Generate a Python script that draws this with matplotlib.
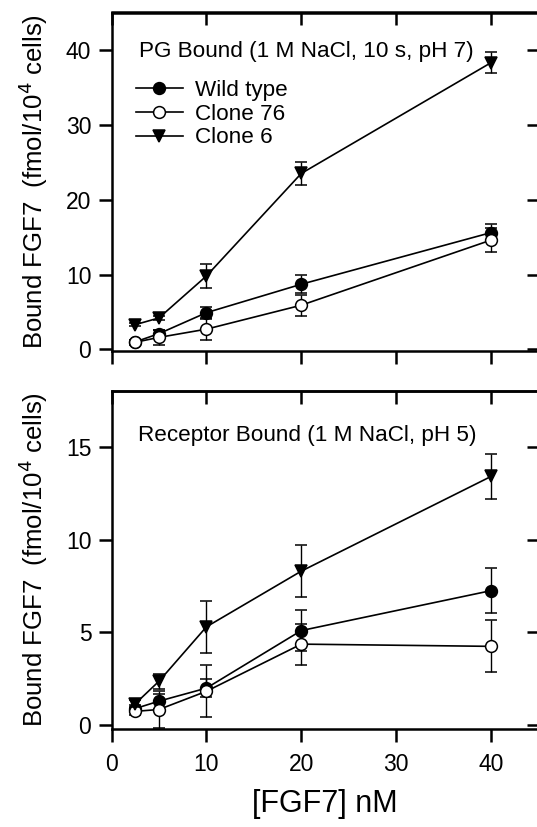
import matplotlib
matplotlib.use("Agg")
import matplotlib.pyplot as plt
from matplotlib.lines import Line2D

plt.rcParams['font.family'] = ['Liberation Sans', 'DejaVu Sans']

conc = [2.5, 5, 10, 20, 40]
series_names = ["Wild type", "Clone 76", "Clone 6"]

# Top panel: PG bound
pg_wt = [1.0, 2.1, 4.9, 8.7, 15.6]
pg_wt_err = [0.3, 0.5, 0.7, 1.2, 1.1]
pg_c76 = [0.95, 1.6, 2.7, 5.9, 14.6]
pg_c76_err = [0.3, 1.0, 1.4, 1.4, 1.6]
pg_c6 = [3.3, 4.2, 9.8, 23.5, 38.3]
pg_c6_err = [0.2, 0.3, 1.6, 1.5, 1.4]

# Bottom panel: receptor bound
rb_wt = [0.9, 1.3, 2.0, 5.1, 7.25]
rb_wt_err = [0.2, 0.4, 0.5, 1.1, 1.2]
rb_c76 = [0.75, 0.85, 1.83, 4.37, 4.25]
rb_c76_err = [0.2, 1.0, 1.4, 1.1, 1.4]
rb_c6 = [1.16, 2.37, 5.3, 8.3, 13.4]
rb_c6_err = [0.2, 0.4, 1.4, 1.4, 1.2]

top_yticks = [0, 10, 20, 30, 40]
bot_yticks = [0, 5, 10, 15]
xticks = [0, 10, 20, 30, 40]

W, H = 537, 827
fig = plt.figure(figsize=(W / 100, H / 100), dpi=100)

def px_axes(left, top, right, bottom):
    return fig.add_axes([left / W, 1 - bottom / H, (right - left) / W, (bottom - top) / H])

ax1 = px_axes(111.5, 12.5, 538.5, 350.5)
ax2 = px_axes(111.5, 391, 538.5, 729)

styles = [
    dict(marker='o', mfc='black', ms=8.5),
    dict(marker='o', mfc='white', ms=8.5),
    dict(marker='v', mfc='black', ms=9),
]

SPW = 1.8

def draw(ax, data, errs, ylim, yticks, show_xlabels):
    for i in [2, 0, 1]:
        st = styles[i]
        ax.errorbar(conc, data[i], yerr=errs[i], color='black', lw=1.2,
                    elinewidth=1.0, capsize=4, capthick=1.0,
                    marker=st['marker'], ms=st['ms'],
                    mfc=st['mfc'], mec='black', mew=1.1, zorder=3 + i)
    ax.set_xlim(0, 45)
    ax.set_ylim(*ylim)
    ax.set_xticks(xticks)
    ax.set_yticks(yticks)
    for sp in ax.spines.values():
        sp.set_linewidth(SPW)
    ax.tick_params(axis='both', direction='out', length=9.5, width=SPW,
                   labelsize=16.5, pad=5)
    ax.tick_params(axis='x', pad=8)
    if not show_xlabels:
        ax.tick_params(axis='x', labelbottom=False)
    secx = ax.secondary_xaxis('top')
    secx.set_xticks(xticks)
    secx.tick_params(direction='in', length=9, width=SPW, labeltop=False)
    secx.spines['top'].set_linewidth(SPW)
    secy = ax.secondary_yaxis('right')
    secy.set_yticks(yticks)
    secy.tick_params(direction='in', length=9, width=SPW, labelright=False)
    secy.spines['right'].set_linewidth(SPW)

draw(ax1, [pg_wt, pg_c76, pg_c6], [pg_wt_err, pg_c76_err, pg_c6_err],
     (-0.15, 45), top_yticks, False)
draw(ax2, [rb_wt, rb_c76, rb_c6], [rb_wt_err, rb_c76_err, rb_c6_err],
     (-0.2, 18), bot_yticks, True)

ax1.text(2.9, 39.8, "PG Bound (1 M NaCl, 10 s, pH 7)", fontsize=16.2, va='center', ha='left')
ax2.text(2.8, 15.6, "Receptor Bound (1 M NaCl, pH 5)", fontsize=16.2, va='center', ha='left')

handles = [Line2D([], [], color='black', lw=1.2, marker=st['marker'], ms=st['ms'],
                  mfc=st['mfc'], mec='black', mew=1.1) for st in styles]
ax1.legend(handles, series_names, loc='upper left',
           bbox_to_anchor=(0.057, 0.80), frameon=False, fontsize=16.2,
           handlelength=2.1, handletextpad=0.55, labelspacing=0.12,
           borderpad=0, borderaxespad=0)

ylab = "Bound FGF7  (fmol/10$^4$ cells)"
fig.text(33 / W, 1 - 181.5 / H, ylab, rotation=90, ha='center', va='center', fontsize=18.5)
fig.text(33 / W, 1 - 560 / H, ylab, rotation=90, ha='center', va='center', fontsize=18.5)
fig.text(325 / W, 1 - 804 / H, "[FGF7] nM", ha='center', va='center', fontsize=22)

fig.savefig("out.png", dpi=100)
